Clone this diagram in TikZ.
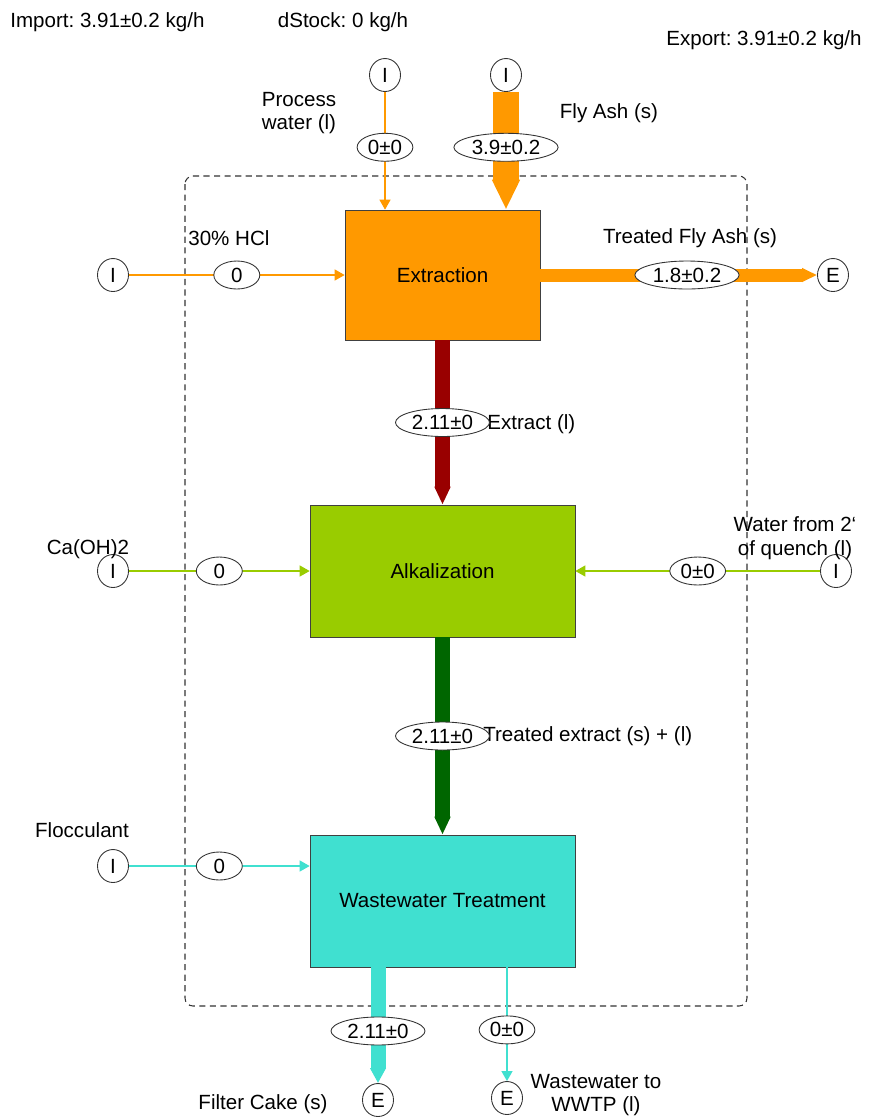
\documentclass[tikz,border=0pt]{standalone}
\usepackage{fontspec}
\setmainfont{Liberation Sans}
\usetikzlibrary{positioning,arrows.meta,shapes.geometric}

\definecolor{extrorange}{HTML}{FF9900}
\definecolor{extractred}{HTML}{990000}
\definecolor{alkgreen}{HTML}{99CC00}
\definecolor{darkgreen}{HTML}{006600}
\definecolor{wwtcyan}{HTML}{40E0D0}

\begin{document}
\begin{tikzpicture}[
  x=0.02cm, y=-0.02cm,
  every node/.style={font=\fontsize{11.7}{13.5}\selectfont\frenchspacing},
  process/.style={draw=black!75, rectangle, minimum width=5.3cm, minimum height=2.64cm},
  term/.style={draw=black!80, line width=0.5pt, ellipse, fill=white, minimum width=0.62cm,
               minimum height=0.66cm, inner sep=0pt},
  val/.style={draw=black!80, line width=0.5pt, ellipse, fill=white, minimum width=0.92cm,
              minimum height=0.56cm, inner xsep=1.5pt, inner ysep=0pt},
  note/.style={inner sep=0pt, align=center},
  thinflow/.style={line width=0.7pt, -{Triangle[length=0.2cm, width=0.22cm]}},
  fatflow/.style 2 args={line width=#1, -{Triangle[length=#2, width=#1]}},
  boundary/.style={draw=black!80, line width=0.6pt, dash pattern=on 3.5pt off 2.5pt,
                   rounded corners=0.16cm}
]
\useasboundingbox (0,0) rectangle (877,1117);
% system boundary
\draw[boundary] (185,176) rectangle (747,1006);
% processes
\node[process, fill=extrorange, minimum width=3.9cm, minimum height=2.6cm] (extr) at (442.5,275) {Extraction};
\node[process, fill=alkgreen] (alk) at (442.5,571) {Alkalization};
\node[process, fill=wwtcyan] (wwt) at (442.5,901) {Wastewater Treatment};
% imports and exports
\node[term] (pwin)   at (385,75)   {I};
\node[term] (fain)   at (506,75)   {I};
\node[term] (hclin)  at (113,275)  {I};
\node[term] (tfaout) at (833,275)  {E};
\node[term] (caohin) at (113,571)  {I};
\node[term] (qwin)   at (836,571)  {I};
\node[term] (flocin) at (113,866)  {I};
\node[term] (fcout)  at (378,1100) {E};
\node[term] (wwout)  at (507,1098) {E};
% balance and flow names
\node[note, anchor=west] (import) at (10,22) {Import: 3.91±0.2 kg/h};
\node[note] (dstock) at (343,22) {dStock: 0 kg/h};
\node[note, anchor=east] (export) at (862,40) {Export: 3.91±0.2 kg/h};
\node[note, align=left] (pwtxt) at (299,113) {Process\\water (l)};
\node[note] (fatxt) at (609,113) {Fly Ash (s)};
\node[note, anchor=west] (hcltxt) at (188,238) {30\% HCl};
\node[note] (tfatxt) at (690,238) {Treated Fly Ash (s)};
\node[note, anchor=west] (extxt) at (487,424) {Extract (l)};
\node[note] (caohtxt) at (88,549) {Ca(OH)2};
\node[note] (qwtxt) at (795,538) {Water from 2`\\of quench (l)};
\node[note, anchor=west] (tetxt) at (483,736) {Treated extract (s) + (l)};
\node[note] (floctxt) at (82,830) {Flocculant};
\node[note] (fctxt) at (263,1104) {Filter Cake (s)};
\node[note] (wwtxt) at (596,1095) {Wastewater to\\WWTP (l)};
% extraction flows
\draw[thinflow, draw=extrorange] (pwin) -- node[val, pos=0.47] {0±0} (pwin |- extr.north);
\draw[fatflow={0.52cm}{0.6cm}, draw=extrorange] (fain) -- node[val, pos=0.47] {3.9±0.2} (fain |- extr.north);
\draw[thinflow, draw=extrorange] (hclin) -- node[val] {0} (extr);
\draw[fatflow={0.26cm}{0.3cm}, draw=extrorange] (extr) -- node[val, pos=0.53] {1.8±0.2} (tfaout);
% alkalization flows
\draw[fatflow={0.3cm}{0.36cm}, draw=extractred] (extr) -- node[val] {2.11±0} (alk);
\draw[thinflow, draw=alkgreen] (caohin) -- node[val] {0} (alk);
\draw[thinflow, draw=alkgreen] (qwin) -- node[val] {0±0} (alk);
% wastewater treatment flows
\draw[fatflow={0.3cm}{0.36cm}, draw=darkgreen] (alk) -- node[val] {2.11±0} (wwt);
\draw[thinflow, draw=wwtcyan] (flocin) -- node[val] {0} (flocin -| wwt.west);
\draw[fatflow={0.3cm}{0.3cm}, draw=wwtcyan] (fcout |- wwt.south) -- node[val, pos=0.55] {2.11±0} (fcout);
\draw[thinflow, draw=wwtcyan] (wwout |- wwt.south) -- node[val, pos=0.55] {0±0} (wwout);
\end{tikzpicture}
\end{document}
